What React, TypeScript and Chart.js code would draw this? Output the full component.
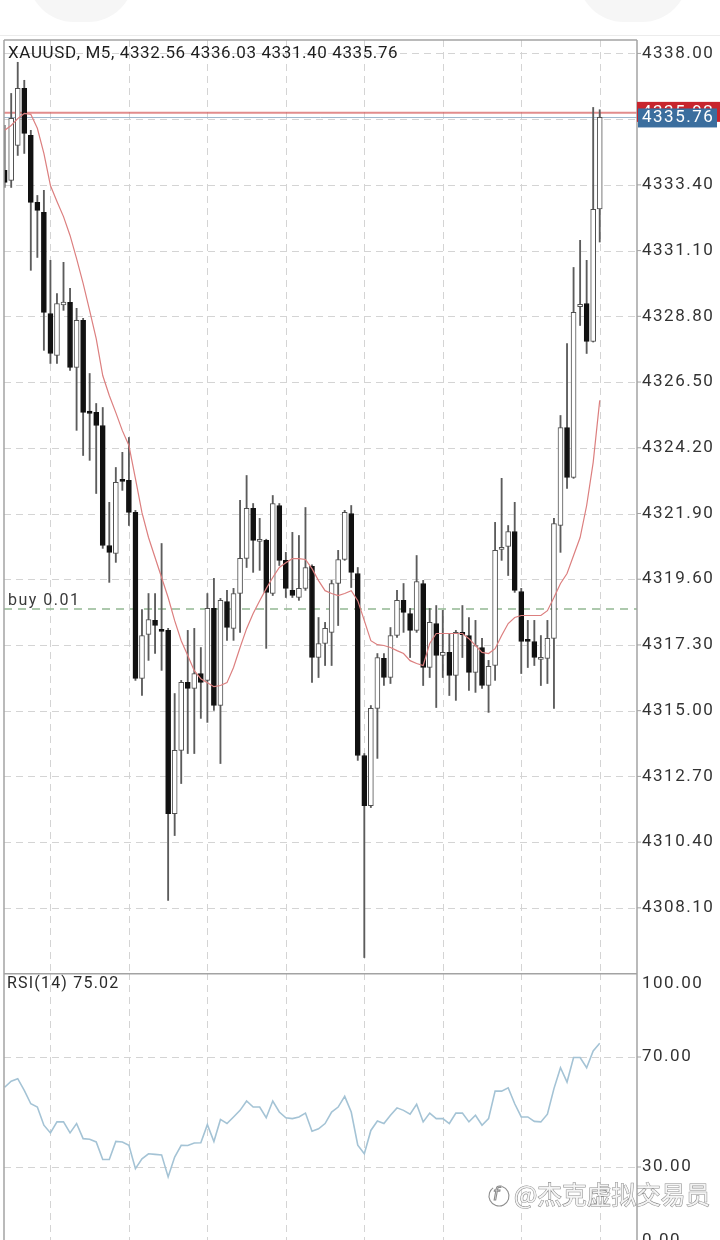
import React, { useEffect, useRef } from 'react';
import { Chart, registerables } from 'chart.js';

Chart.register(...registerables);

const SYMBOL = 'XAUUSD';
const TIMEFRAME = 'M5';

const opens = [
  4333.91, 4333.56, 4334.78, 4336.78, 4335.13, 4332.79, 4332.44, 4328.90, 4327.43, 4329.20,
  4329.29, 4327.01, 4328.66, 4325.48, 4325.44, 4324.98, 4320.78, 4320.50, 4323.10, 4323.06,
  4321.94, 4316.13, 4317.67, 4318.16, 4317.85, 4317.81, 4311.40, 4313.61, 4315.99, 4315.78,
  4316.30, 4316.06, 4318.58, 4315.18, 4318.82, 4317.88, 4319.10, 4320.33, 4322.08, 4320.92,
  4320.96, 4319.10, 4322.18, 4320.26, 4319.21, 4318.96, 4319.28, 4320.05, 4316.86, 4317.35,
  4317.74, 4319.45, 4320.29, 4321.90, 4319.80, 4313.43, 4311.68, 4315.08, 4316.83, 4316.16,
  4317.63, 4318.86, 4318.40, 4317.81, 4319.45, 4316.51, 4318.05, 4316.93, 4317.04, 4316.23,
  4317.74, 4317.63, 4316.34, 4317.21, 4315.88, 4316.58, 4320.64, 4320.75, 4321.27, 4319.17,
  4317.50, 4317.42, 4316.79, 4316.83, 4317.53, 4321.48, 4324.91, 4323.16, 4329.14, 4329.25,
  4327.92, 4332.56,
];
const highs = [
  4335.48, 4336.60, 4337.69, 4337.06, 4335.31, 4333.03, 4333.21, 4330.76, 4329.60, 4330.69,
  4329.78, 4329.08, 4328.73, 4326.80, 4325.75, 4325.61, 4322.29, 4323.51, 4324.04, 4324.56,
  4322.01, 4318.54, 4319.10, 4319.10, 4320.85, 4317.88, 4315.60, 4316.06, 4317.81, 4317.88,
  4317.21, 4319.10, 4319.63, 4318.93, 4319.21, 4319.28, 4322.36, 4323.23, 4322.25, 4321.73,
  4321.00, 4322.53, 4322.25, 4320.54, 4321.24, 4321.13, 4322.11, 4320.10, 4318.26, 4318.09,
  4319.56, 4320.61, 4322.01, 4322.18, 4320.01, 4313.50, 4315.18, 4317.00, 4317.00, 4317.91,
  4319.21, 4319.45, 4318.58, 4320.43, 4319.56, 4318.58, 4318.68, 4318.51, 4317.70, 4317.81,
  4318.68, 4318.26, 4318.16, 4317.53, 4316.76, 4321.59, 4323.13, 4321.48, 4322.29, 4319.28,
  4318.16, 4318.16, 4317.63, 4318.16, 4321.73, 4325.33, 4327.85, 4330.51, 4331.46, 4330.76,
  4336.11, 4336.03,
];
const lows = [
  4333.31, 4333.31, 4334.43, 4334.50, 4330.41, 4330.86, 4327.61, 4327.15, 4327.15, 4329.01,
  4326.91, 4324.81, 4323.93, 4323.76, 4322.60, 4320.68, 4319.49, 4320.19, 4322.71, 4321.48,
  4316.06, 4315.53, 4316.76, 4317.00, 4316.41, 4308.36, 4310.63, 4312.45, 4313.50, 4313.50,
  4314.73, 4314.59, 4315.01, 4313.15, 4317.46, 4317.46, 4317.74, 4320.01, 4319.84, 4319.91,
  4317.18, 4319.03, 4320.08, 4318.96, 4318.96, 4318.86, 4319.21, 4315.99, 4316.16, 4316.58,
  4316.58, 4317.98, 4320.26, 4319.31, 4313.26, 4306.36, 4311.61, 4313.33, 4315.88, 4315.95,
  4317.56, 4317.74, 4316.86, 4317.74, 4315.88, 4316.16, 4315.11, 4316.16, 4315.53, 4315.36,
  4316.86, 4315.71, 4315.64, 4315.78, 4314.94, 4316.06, 4320.26, 4319.73, 4319.14, 4316.30,
  4316.51, 4316.58, 4315.88, 4315.95, 4315.08, 4320.54, 4322.78, 4323.13, 4328.48, 4327.50,
  4327.90, 4331.40,
];
const closes = [
  4333.49, 4335.73, 4336.78, 4335.20, 4332.79, 4332.51, 4328.94, 4327.50, 4329.25, 4329.30,
  4327.01, 4328.66, 4325.44, 4325.40, 4324.98, 4320.78, 4320.54, 4322.99, 4323.02, 4321.94,
  4316.13, 4317.63, 4318.19, 4317.98, 4317.77, 4311.40, 4313.61, 4315.99, 4315.78, 4316.30,
  4315.99, 4318.58, 4315.18, 4318.86, 4317.91, 4319.10, 4320.33, 4322.08, 4320.96, 4321.00,
  4319.14, 4322.25, 4320.26, 4319.28, 4319.03, 4319.28, 4320.01, 4316.86, 4317.35, 4317.88,
  4319.45, 4320.29, 4321.94, 4319.84, 4313.43, 4311.68, 4315.08, 4316.86, 4316.16, 4317.63,
  4318.86, 4318.44, 4317.81, 4319.52, 4316.51, 4318.09, 4316.93, 4317.04, 4316.23, 4317.74,
  4317.66, 4316.34, 4317.28, 4315.88, 4316.55, 4320.61, 4320.72, 4321.27, 4319.21, 4317.42,
  4317.42, 4316.86, 4316.87, 4317.53, 4321.55, 4324.91, 4323.16, 4328.94, 4329.22, 4327.92,
  4332.54, 4335.76,
];
const maValues = [
  4335.31, 4335.48, 4335.72, 4335.90, 4335.87, 4335.38, 4334.50, 4333.38, 4332.82, 4332.29,
  4331.63, 4330.82, 4329.95, 4329.00, 4328.02, 4326.73, 4326.03, 4325.43, 4324.80, 4324.28,
  4323.12, 4321.93, 4321.06, 4320.36, 4319.66, 4318.96, 4318.15, 4317.45, 4316.93, 4316.40,
  4316.12, 4315.98, 4315.84, 4315.88, 4315.98, 4316.51, 4317.21, 4317.87, 4318.40, 4318.85,
  4319.27, 4319.66, 4320.01, 4320.18, 4320.32, 4320.32, 4320.29, 4319.97, 4319.55, 4319.20,
  4319.10, 4319.03, 4319.10, 4319.20, 4318.85, 4318.15, 4317.45, 4317.31, 4317.28, 4317.21,
  4317.10, 4317.00, 4316.75, 4316.65, 4316.58, 4317.35, 4317.70, 4317.70, 4317.70, 4317.70,
  4317.70, 4317.52, 4317.28, 4317.04, 4317.00, 4317.17, 4317.63, 4318.05, 4318.26, 4318.33,
  4318.33, 4318.33, 4318.33, 4318.50, 4318.96, 4319.45, 4319.80, 4320.43, 4321.06, 4322.18,
  4323.69, 4325.86,
];
const rsiValues = [
  59.0, 61.2, 62.1, 57.9, 53.0, 51.8, 45.2, 42.4, 46.4, 46.4,
  42.4, 45.8, 40.3, 40.1, 39.1, 32.7, 32.7, 39.3, 39.1, 37.9,
  29.4, 33.0, 34.8, 34.6, 34.4, 26.4, 33.6, 37.9, 37.8, 38.7,
  38.8, 45.4, 39.3, 47.3, 45.8, 48.2, 50.6, 54.0, 51.8, 51.8,
  47.9, 54.0, 50.0, 47.9, 47.6, 48.2, 49.6, 43.0, 43.9, 45.8,
  50.0, 51.8, 55.7, 50.0, 37.9, 34.8, 43.3, 46.7, 45.8, 48.8,
  51.5, 50.6, 49.2, 52.8, 46.4, 49.6, 47.6, 47.6, 45.8, 49.6,
  49.6, 46.4, 48.8, 45.2, 47.6, 57.6, 57.6, 58.8, 53.0, 48.2,
  48.2, 46.6, 46.4, 49.2, 58.5, 66.1, 60.9, 69.8, 69.8, 66.1,
  72.2, 75.02,
];

const priceTicks = [4338.0, 4335.7, 4333.4, 4331.1, 4328.8, 4326.5, 4324.2, 4321.9, 4319.6, 4317.3, 4315.0, 4312.7, 4310.4, 4308.1];
const rsiTicks = [100, 70, 30, 0];
const rsiGridTicks = [70, 30];
const hourCandles = [7, 19, 31, 43, 55, 67, 79, 91];
const bidPrice = 4335.76;
const askPrice = 4335.92;
const buyPrice = 4318.56;
const buyLabel = 'buy 0.01';
const rsiPeriod = 14;
const watermark = '@杰克虚拟交易员';

const PRICE_MIN = 4305.82;
const PRICE_MAX = 4338.47;
const X_MIN = -0.1;
const X_MAX = 96.7;
const RSI_MIN = 3.45;
const RSI_MAX = 100.55;

const FONT = 'Roboto, "Noto Sans", sans-serif';
const LABEL_X = 642;

function hLine(ctx: CanvasRenderingContext2D, x1: number, x2: number, y: number) {
  ctx.beginPath();
  ctx.moveTo(x1, y);
  ctx.lineTo(x2, y);
  ctx.stroke();
}
function vLine(ctx: CanvasRenderingContext2D, x: number, y1: number, y2: number) {
  ctx.beginPath();
  ctx.moveTo(x, y1);
  ctx.lineTo(x, y2);
  ctx.stroke();
}
// draws text char by char with extra spacing (works regardless of ctx.letterSpacing support)
function spacedText(ctx: CanvasRenderingContext2D, text: string, x: number, y: number, spacing: number) {
  let cx = x;
  for (const ch of text) {
    ctx.fillText(ch, cx, y);
    cx += ctx.measureText(ch).width + spacing;
  }
}

const mainDecor = {
  id: 'mainDecor',
  beforeDatasetsDraw(chart: any) {
    const { ctx, chartArea: a, scales } = chart;
    const x = scales.x;
    const y = scales.y;
    ctx.save();
    ctx.strokeStyle = '#d4d4d4';
    ctx.lineWidth = 1;
    ctx.setLineDash([7, 5]);
    priceTicks.forEach((v) => hLine(ctx, a.left, a.right, Math.round(y.getPixelForValue(v)) + 0.5));
    hourCandles.forEach((i) => vLine(ctx, Math.round(x.getPixelForValue(i)) + 0.5, a.top, a.bottom));
    ctx.strokeStyle = '#93b893';
    ctx.lineWidth = 1.5;
    ctx.setLineDash([8, 6]);
    hLine(ctx, a.left, a.right, y.getPixelForValue(buyPrice));
    ctx.setLineDash([]);
    ctx.strokeStyle = 'rgba(214,92,92,0.7)';
    ctx.lineWidth = 2;
    hLine(ctx, a.left, a.right, y.getPixelForValue(askPrice));
    ctx.strokeStyle = '#9fb8cd';
    ctx.lineWidth = 1;
    hLine(ctx, a.left, a.right, Math.round(y.getPixelForValue(bidPrice)) + 0.5);
    ctx.restore();
  },
  afterDraw(chart: any) {
    const { ctx, chartArea: a, scales } = chart;
    const y = scales.y;
    ctx.save();
    ctx.strokeStyle = '#a3a3a3';
    ctx.lineWidth = 1.5;
    hLine(ctx, a.left, a.right, a.top);
    vLine(ctx, a.left, a.top, a.bottom);
    vLine(ctx, a.right, a.top, a.bottom);
    ctx.font = '17px ' + FONT;
    ctx.textBaseline = 'middle';
    ctx.textAlign = 'left';
    ctx.fillStyle = '#333';
    ctx.lineWidth = 1;
    priceTicks.forEach((v) => {
      const py = y.getPixelForValue(v);
      hLine(ctx, a.right, a.right + 4, py);
      spacedText(ctx, v.toFixed(2), LABEL_X, py, 1.5);
    });
    const n = closes.length - 1;
    ctx.fillStyle = '#1e1e1e';
    ctx.font = '17px ' + FONT;
    spacedText(
      ctx,
      `${SYMBOL}, ${TIMEFRAME}, ${opens[n].toFixed(2)} ${highs[n].toFixed(2)} ${lows[n].toFixed(2)} ${closes[n].toFixed(2)}`,
      8,
      54,
      0.6
    );
    ctx.fillStyle = '#3a3a3a';
    ctx.font = '16px ' + FONT;
    spacedText(ctx, buyLabel, 8, y.getPixelForValue(buyPrice) - 8, 1.5);
    const askY = y.getPixelForValue(askPrice);
    ctx.fillStyle = '#c8252d';
    ctx.fillRect(a.right, askY - 11, 720 - a.right, 20);
    ctx.fillStyle = '#fff';
    ctx.font = '17px ' + FONT;
    spacedText(ctx, askPrice.toFixed(2), LABEL_X, askY, 1.5);
    const bidY = y.getPixelForValue(bidPrice);
    ctx.fillStyle = '#3b6e9e';
    ctx.fillRect(a.right + 1, bidY - 9, 79, 19);
    ctx.fillStyle = '#fff';
    spacedText(ctx, bidPrice.toFixed(2), LABEL_X, bidY + 0.5, 1.5);
    ctx.restore();
  },
};

const rsiDecor = {
  id: 'rsiDecor',
  beforeDatasetsDraw(chart: any) {
    const { ctx, chartArea: a, scales } = chart;
    const x = scales.x;
    const y = scales.y;
    ctx.save();
    ctx.strokeStyle = '#d4d4d4';
    ctx.lineWidth = 1;
    ctx.setLineDash([7, 5]);
    rsiGridTicks.forEach((v) => hLine(ctx, a.left, a.right, Math.round(y.getPixelForValue(v)) + 0.5));
    hourCandles.forEach((i) => vLine(ctx, Math.round(x.getPixelForValue(i)) + 0.5, a.top, a.bottom));
    ctx.restore();
  },
  afterDraw(chart: any) {
    const { ctx, chartArea: a, scales } = chart;
    const y = scales.y;
    ctx.save();
    ctx.strokeStyle = '#a3a3a3';
    ctx.lineWidth = 1.5;
    hLine(ctx, a.left, a.right, a.top + 0.75);
    vLine(ctx, a.left, a.top, a.bottom);
    vLine(ctx, a.right, a.top, a.bottom);
    ctx.font = '17px ' + FONT;
    ctx.textBaseline = 'middle';
    ctx.textAlign = 'left';
    ctx.fillStyle = '#333';
    ctx.lineWidth = 1;
    rsiTicks.forEach((v) => {
      const py = y.getPixelForValue(v);
      let ly = py;
      if (v === 100) ly = a.top + 11;
      if (v === 0) ly = py - 9;
      if (v !== 100 && v !== 0) hLine(ctx, a.right, a.right + 4, py);
      spacedText(ctx, v.toFixed(2), LABEL_X, ly, 1.5);
    });
    ctx.fillStyle = '#2a2a2a';
    ctx.font = '16px ' + FONT;
    spacedText(ctx, `RSI(${rsiPeriod}) ${rsiValues[rsiValues.length - 1].toFixed(2)}`, 7, 11, 1.2);
    // watermark, sized to fit between x=514 and x=712
    ctx.font = '26px "Noto Sans CJK SC", sans-serif';
    const w = ctx.measureText(watermark).width;
    const size = Math.max(16, Math.min(30, (26 * 196) / w));
    ctx.font = `${size.toFixed(1)}px "Noto Sans CJK SC", sans-serif`;
    ctx.textBaseline = 'middle';
    ctx.lineWidth = 1.1;
    ctx.strokeStyle = '#8c8c8c';
    ctx.fillStyle = '#f4f4f4';
    ctx.strokeText(watermark, 514, 222);
    ctx.fillText(watermark, 514, 222);
    ctx.beginPath();
    ctx.arc(499, 223, 10, -0.4 * Math.PI, 1.3 * Math.PI);
    ctx.stroke();
    ctx.font = 'italic 17px "DejaVu Sans", sans-serif';
    ctx.strokeText('f', 493, 223);
    ctx.restore();
  },
};

export default function App() {
  const mainRef = useRef<HTMLCanvasElement | null>(null);
  const rsiRef = useRef<HTMLCanvasElement | null>(null);

  useEffect(() => {
    const bodies = opens.map((o, i) => ({ x: i, y: [o, closes[i]] }));
    const wicks = lows.map((l, i) => ({ x: i, y: [l, highs[i]] }));
    const bodyFill = opens.map((o, i) => (closes[i] >= o ? '#ffffff' : '#111111'));
    const bodyBorder = opens.map((o, i) => (closes[i] >= o ? '#505050' : '#111111'));

    const main = new Chart(mainRef.current as HTMLCanvasElement, {
      type: 'bar',
      data: {
        datasets: [
          {
            type: 'line',
            data: maValues.map((v, i) => ({ x: i, y: v })),
            borderColor: '#dc7f7f',
            borderWidth: 1.2,
            pointRadius: 0,
            tension: 0,
            order: 0,
          } as any,
          {
            type: 'bar',
            data: bodies,
            backgroundColor: bodyFill,
            borderColor: bodyBorder,
            borderWidth: 1,
            borderSkipped: false,
            barThickness: 5,
            grouped: false,
            order: 1,
          } as any,
          {
            type: 'bar',
            data: wicks,
            backgroundColor: '#5c5c5c',
            borderWidth: 0,
            barThickness: 1.2,
            grouped: false,
            order: 2,
          } as any,
        ],
      },
      options: {
        responsive: false,
        animation: false,
        events: [],
        layout: { padding: { left: 4, right: 83, top: 40, bottom: 0 } },
        plugins: { legend: { display: false }, tooltip: { enabled: false } },
        scales: {
          x: { type: 'linear', min: X_MIN, max: X_MAX, display: false, offset: false },
          y: { type: 'linear', min: PRICE_MIN, max: PRICE_MAX, display: false },
        },
      } as any,
      plugins: [mainDecor],
    });

    const rsiChart = new Chart(rsiRef.current as HTMLCanvasElement, {
      type: 'line',
      data: {
        datasets: [
          {
            data: rsiValues.map((v, i) => ({ x: i, y: v })),
            borderColor: '#a4c3d5',
            borderWidth: 1.6,
            pointRadius: 0,
            tension: 0,
          },
        ],
      },
      options: {
        responsive: false,
        animation: false,
        events: [],
        layout: { padding: { left: 4, right: 83, top: 0, bottom: 0 } },
        plugins: { legend: { display: false }, tooltip: { enabled: false } },
        scales: {
          x: { type: 'linear', min: X_MIN, max: X_MAX, display: false, offset: false },
          y: { type: 'linear', min: RSI_MIN, max: RSI_MAX, display: false },
        },
      } as any,
      plugins: [rsiDecor],
    });

    return () => {
      main.destroy();
      rsiChart.destroy();
    };
  }, []);

  return (
    <div
      style={{
        position: 'absolute',
        left: 0,
        top: 0,
        width: 720,
        height: 1240,
        background: '#fff',
        overflow: 'hidden',
      }}
    >
      <div style={{ position: 'absolute', left: 28, top: -70, width: 106, height: 92, borderRadius: 46, background: '#f6f6f6' }} />
      <div style={{ position: 'absolute', left: 578, top: -70, width: 110, height: 92, borderRadius: 46, background: '#f6f6f6' }} />
      <div style={{ position: 'absolute', left: 0, top: 35, width: 720, height: 1, background: '#ececec' }} />
      <canvas
        ref={mainRef}
        width={720}
        height={973}
        style={{ position: 'absolute', left: 0, top: 0, width: 720, height: 973 }}
      />
      <canvas
        ref={rsiRef}
        width={720}
        height={267}
        style={{ position: 'absolute', left: 0, top: 973, width: 720, height: 267 }}
      />
    </div>
  );
}
